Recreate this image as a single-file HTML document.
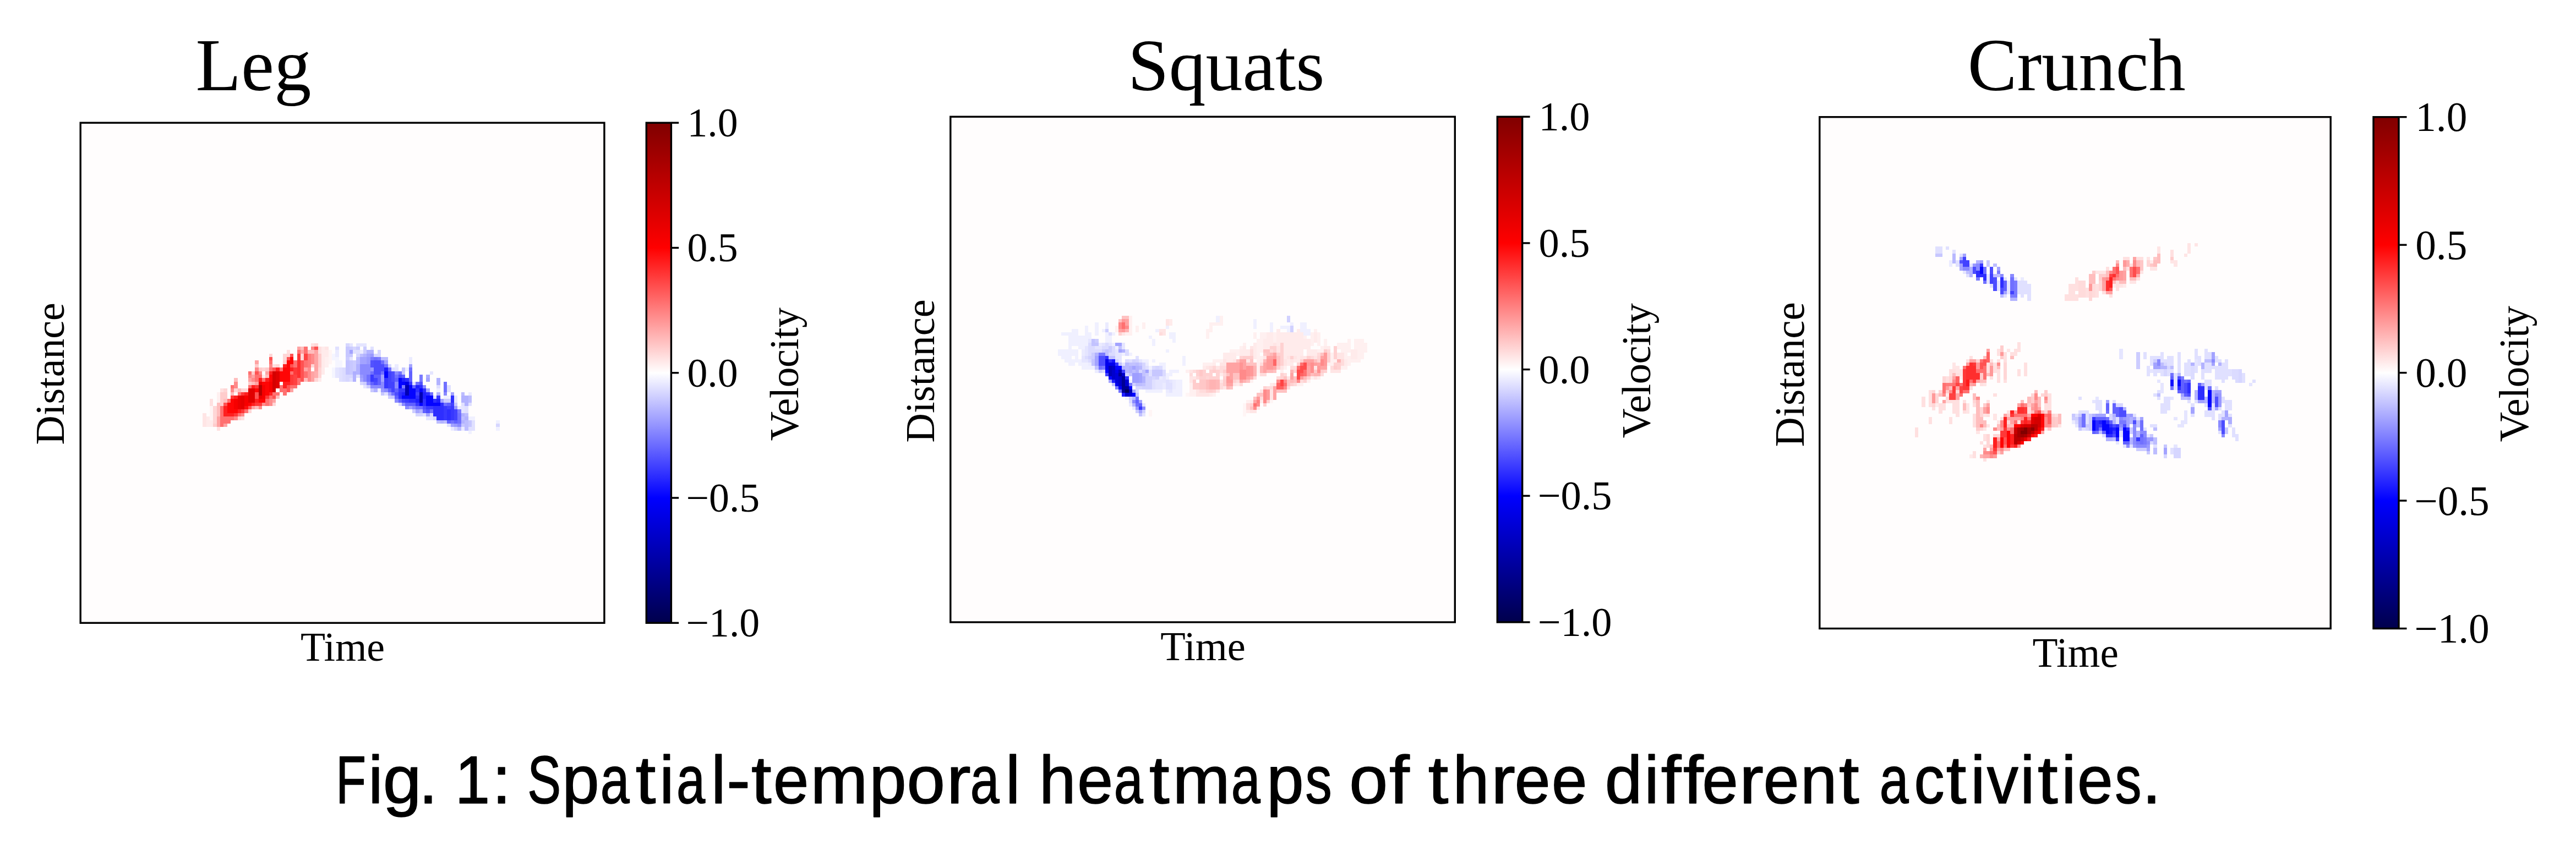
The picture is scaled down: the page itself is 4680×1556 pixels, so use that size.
<!DOCTYPE html>
<html lang="en"><head><meta charset="utf-8"><title>Fig. 1</title>
<style>
html,body{margin:0;padding:0;background:#fff;}
body{width:4680px;height:1556px;overflow:hidden;}
svg{display:block;}
text{font-family:"Liberation Serif", serif;fill:#000;}
.cap{font-family:"Liberation Sans", sans-serif;stroke:#000;stroke-width:1.6px;stroke-linejoin:round;vector-effect:non-scaling-stroke;}
</style></head><body>

<svg width="4680" height="1556" viewBox="0 0 4680 1556">
<defs><linearGradient id="seis" x1="0" y1="0" x2="0" y2="1"><stop offset="0" stop-color="#800000"/><stop offset="0.25" stop-color="#ff0000"/><stop offset="0.5" stop-color="#ffffff"/><stop offset="0.75" stop-color="#0000ff"/><stop offset="1" stop-color="#00004c"/></linearGradient></defs>
<rect width="4680" height="1556" fill="#fff"/>
<g>
<rect x="145.5" y="222.5" width="953.1" height="910.5" fill="#fffdfd"/>
<g transform="translate(146.1 223.2) scale(6.3460 6.3570)" shape-rendering="crispEdges">
<path fill="#0000b4" d="M93 75h1v3h-1zM97 77h1v3h-1z"/>
<path fill="#0000ea" d="M93 74h1v1h-1z"/>
<path fill="#0505ff" d="M87 71h1v2h-1zM91 73h1v3h-1zM92 74h1v1h-1zM92 78h1v1h-1zM93 78h1v1h-1zM94 75h1v4h-1zM95 76h1v3h-1zM97 76h1v1h-1zM97 80h1v1h-1zM99 78h1v3h-1zM100 78h1v3h-1zM101 80h1v1h-1zM102 80h1v1h-1z"/>
<path fill="#1f1fff" d="M87 70h1v1h-1zM92 73h1v1h-1zM92 77h1v1h-1zM96 75h1v1h-1zM96 79h1v1h-1zM98 77h1v2h-1zM102 79h1v1h-1z"/>
<path fill="#2e2eff" d="M91 77h1v2h-1zM93 73h1v1h-1zM94 79h1v1h-1zM95 79h1v1h-1zM96 76h1v1h-1zM96 78h1v1h-1zM97 75h1v1h-1zM98 76h1v1h-1zM98 79h1v2h-1zM99 77h1v1h-1zM101 79h1v1h-1zM101 81h1v3h-1zM102 81h1v4h-1zM103 80h1v5h-1zM105 82h1v3h-1zM106 78h1v2h-1z"/>
<path fill="#3838ff" d="M83 72h1v2h-1zM87 73h1v3h-1zM91 76h1v1h-1zM92 76h1v1h-1zM93 79h1v1h-1zM94 74h1v1h-1zM96 80h1v1h-1zM99 81h1v1h-1zM100 81h1v1h-1zM102 78h1v1h-1zM104 81h1v4h-1zM106 81h1v4h-1z"/>
<path fill="#4242ff" d="M84 73h1v1h-1zM88 71h1v5h-1zM89 74h1v3h-1zM92 79h1v1h-1zM96 77h1v1h-1zM105 81h1v1h-1zM106 80h1v1h-1zM107 82h1v3h-1z"/>
<path fill="#4d4dff" d="M84 68h1v4h-1zM84 74h1v1h-1zM85 68h1v4h-1zM86 69h1v2h-1zM89 71h1v3h-1zM90 77h1v1h-1zM91 72h1v1h-1zM98 81h1v1h-1zM99 82h1v1h-1z"/>
<path fill="#5252ff" d="M83 68h1v2h-1zM97 74h1v1h-1z"/>
<path fill="#6161ff" d="M83 74h1v1h-1zM84 72h1v1h-1zM85 72h1v3h-1zM88 76h1v1h-1zM90 73h1v1h-1zM90 76h1v1h-1zM90 78h1v1h-1zM91 79h1v1h-1zM92 72h1v1h-1zM93 80h1v1h-1zM94 71h1v3h-1zM94 80h1v1h-1zM95 75h1v1h-1zM95 80h1v1h-1zM98 82h1v1h-1zM105 80h1v1h-1zM105 85h1v1h-1zM107 85h1v1h-1z"/>
<path fill="#7070ff" d="M82 72h1v2h-1zM83 71h1v1h-1zM84 67h1v1h-1zM86 68h1v1h-1zM86 71h1v1h-1zM87 69h1v1h-1zM88 70h1v1h-1zM89 77h1v1h-1zM90 72h1v1h-1zM91 71h1v1h-1zM94 70h1v1h-1zM96 74h1v1h-1zM96 81h1v1h-1zM97 81h1v1h-1zM100 77h1v1h-1zM100 82h1v1h-1zM104 74h1v3h-1zM104 80h1v1h-1zM106 85h1v1h-1zM108 83h1v3h-1z"/>
<path fill="#7a7aff" d="M83 67h1v1h-1zM85 67h1v1h-1zM92 75h1v1h-1zM97 72h1v2h-1zM108 82h1v1h-1z"/>
<path fill="#8a8aff" d="M80 69h1v3h-1zM81 69h1v5h-1zM82 69h1v3h-1zM82 74h1v1h-1zM83 75h1v1h-1zM84 75h1v1h-1zM85 75h1v1h-1zM86 74h1v2h-1zM87 76h1v1h-1zM90 71h1v1h-1zM90 74h1v2h-1zM90 79h1v1h-1zM92 80h1v1h-1zM93 81h1v1h-1zM95 81h1v1h-1zM98 75h1v1h-1zM104 77h1v1h-1zM108 86h1v1h-1z"/>
<path fill="#9999ff" d="M80 72h1v1h-1zM82 67h1v2h-1zM83 66h1v1h-1zM83 70h1v1h-1zM86 76h1v1h-1zM107 81h1v1h-1zM107 86h1v1h-1z"/>
<path fill="#a3a3ff" d="M77 65h1v1h-1zM80 67h1v2h-1zM80 73h1v1h-1zM81 67h1v2h-1zM82 66h1v1h-1zM86 72h1v2h-1zM87 68h1v1h-1zM88 77h1v1h-1zM94 69h1v1h-1zM94 81h1v1h-1zM96 82h1v1h-1zM99 73h1v1h-1zM99 76h1v1h-1zM99 83h1v1h-1zM103 79h1v1h-1zM106 77h1v1h-1zM106 86h1v1h-1z"/>
<path fill="#adadff" d="M78 71h1v1h-1zM99 72h1v1h-1z"/>
<path fill="#b2b2ff" d="M78 72h1v2h-1zM79 69h1v3h-1zM81 66h1v1h-1zM82 65h1v1h-1zM83 65h1v1h-1zM84 76h1v1h-1zM97 82h1v1h-1zM102 73h1v2h-1zM102 77h1v1h-1zM103 85h1v1h-1zM109 78h1v2h-1zM109 83h1v1h-1zM109 85h1v1h-1zM110 78h1v3h-1zM110 84h1v1h-1z"/>
<path fill="#bdbdff" d="M79 67h1v2h-1zM80 66h1v1h-1zM86 67h1v1h-1zM87 67h1v1h-1zM102 85h1v1h-1zM104 85h1v1h-1zM108 87h1v1h-1zM109 77h1v1h-1zM109 84h1v1h-1zM110 83h1v1h-1zM110 85h1v3h-1zM111 78h1v2h-1z"/>
<path fill="#c2c2ff" d="M76 68h1v4h-1z"/>
<path fill="#c7c7ff" d="M76 64h1v3h-1zM77 66h1v1h-1zM77 68h1v4h-1zM83 76h1v1h-1zM86 77h1v1h-1zM89 78h1v1h-1zM92 70h1v2h-1zM107 80h1v1h-1zM109 86h1v1h-1zM111 85h1v2h-1z"/>
<path fill="#ccccff" d="M76 67h1v1h-1zM77 64h1v1h-1zM78 68h1v3h-1zM79 64h1v1h-1zM81 64h1v2h-1zM81 74h1v1h-1zM82 75h1v1h-1zM88 78h1v1h-1zM95 82h1v1h-1zM104 79h1v1h-1zM105 79h1v1h-1z"/>
<path fill="#d6d6ff" d="M76 63h1v1h-1zM76 72h1v2h-1zM77 72h1v1h-1zM78 64h1v1h-1zM79 66h1v1h-1zM80 74h1v1h-1zM84 66h1v1h-1zM85 65h1v2h-1zM88 69h1v1h-1zM91 80h1v1h-1zM96 83h1v1h-1zM97 83h1v1h-1zM101 84h1v1h-1zM107 87h1v1h-1zM119 86h1v1h-1z"/>
<path fill="#dbdbff" d="M75 70h1v4h-1zM100 83h1v1h-1z"/>
<path fill="#e0e0ff" d="M73 64h1v1h-1zM74 70h1v4h-1zM77 73h1v1h-1zM78 65h1v1h-1zM79 65h1v1h-1zM79 72h1v1h-1zM83 64h1v1h-1zM87 77h1v1h-1zM89 70h1v1h-1zM95 74h1v1h-1zM98 83h1v1h-1zM101 78h1v1h-1zM102 75h1v1h-1zM105 75h1v2h-1zM105 86h1v1h-1zM109 80h1v1h-1zM110 81h1v2h-1zM111 80h1v1h-1zM111 87h1v1h-1zM112 85h1v3h-1z"/>
<path fill="#e5e5ff" d="M73 70h1v3h-1zM77 63h1v1h-1zM77 67h1v1h-1zM79 63h1v1h-1zM80 63h1v1h-1zM81 63h1v1h-1zM81 75h1v1h-1zM90 70h1v1h-1zM99 84h1v1h-1zM100 71h1v1h-1zM100 84h1v1h-1zM107 78h1v2h-1zM109 81h1v2h-1z"/>
<path fill="#ebebff" d="M73 65h1v2h-1zM80 65h1v1h-1zM90 69h1v1h-1zM94 67h1v2h-1zM106 87h1v1h-1zM108 81h1v1h-1zM109 87h1v1h-1zM111 77h1v1h-1z"/>
<path fill="#f0f0ff" d="M85 76h1v1h-1zM93 70h1v1h-1zM102 76h1v1h-1zM104 78h1v1h-1zM105 78h1v1h-1zM111 84h1v1h-1zM111 88h1v1h-1zM112 84h1v1h-1zM119 85h1v1h-1zM119 87h1v1h-1z"/>
<path fill="#f5f5ff" d="M72 66h1v2h-1zM72 70h1v3h-1zM73 67h1v3h-1zM74 68h1v2h-1z"/>
<path fill="#fff5f5" d="M37 81h1v4h-1zM44 77h1v1h-1zM71 65h1v4h-1z"/>
<path fill="#fff0f0" d="M39 77h1v3h-1zM70 67h1v3h-1z"/>
<path fill="#ffebeb" d="M36 84h1v3h-1zM37 85h1v2h-1zM52 72h1v1h-1zM68 73h1v1h-1zM69 64h1v8h-1zM70 65h1v2h-1z"/>
<path fill="#ffe5e5" d="M35 83h1v4h-1zM70 64h1v1h-1z"/>
<path fill="#ffe0e0" d="M37 79h1v2h-1zM39 87h1v1h-1zM40 76h1v1h-1zM46 84h1v1h-1zM55 69h1v1h-1zM59 65h1v1h-1zM66 63h1v1h-1zM68 64h1v2h-1z"/>
<path fill="#ffd6d6" d="M38 81h1v5h-1zM41 76h1v1h-1zM44 76h1v1h-1zM45 84h1v1h-1zM46 76h1v1h-1zM47 76h1v1h-1zM48 82h1v1h-1zM52 70h1v1h-1zM54 66h1v1h-1zM55 80h1v1h-1zM56 69h1v1h-1zM58 66h1v2h-1zM59 66h1v1h-1zM63 66h1v2h-1zM66 69h1v1h-1zM67 63h1v1h-1zM67 73h1v1h-1zM68 70h1v3h-1z"/>
<path fill="#ffcccc" d="M38 86h1v1h-1zM40 77h1v4h-1zM41 77h1v2h-1zM48 74h1v1h-1zM49 71h1v1h-1zM50 69h1v1h-1zM51 70h1v1h-1zM53 70h1v1h-1zM58 68h1v1h-1zM68 66h1v4h-1z"/>
<path fill="#ffbdbd" d="M39 80h1v4h-1zM41 79h1v1h-1zM43 77h1v1h-1zM44 73h1v1h-1zM45 76h1v1h-1zM49 74h1v1h-1zM50 81h1v1h-1zM53 72h1v1h-1zM56 78h1v1h-1zM63 64h1v1h-1zM64 73h1v1h-1zM65 65h1v1h-1zM66 65h1v1h-1z"/>
<path fill="#ffadad" d="M67 71h1v2h-1z"/>
<path fill="#ffa3a3" d="M39 84h1v3h-1zM41 86h1v1h-1zM48 73h1v1h-1zM49 72h1v1h-1zM49 81h1v1h-1zM50 68h1v1h-1zM50 74h1v1h-1zM53 71h1v1h-1zM55 79h1v1h-1zM60 76h1v1h-1zM62 64h1v1h-1zM63 65h1v1h-1zM64 70h1v1h-1zM66 71h1v3h-1zM67 65h1v6h-1z"/>
<path fill="#ff8a8a" d="M43 76h1v1h-1zM44 74h1v2h-1zM44 84h1v1h-1zM46 83h1v1h-1zM48 72h1v1h-1zM49 73h1v1h-1zM50 70h1v1h-1zM51 71h1v1h-1zM51 81h1v1h-1zM52 80h1v1h-1zM54 69h1v1h-1zM54 79h1v2h-1zM65 70h1v4h-1zM66 64h1v1h-1zM66 66h1v3h-1z"/>
<path fill="#ff7a7a" d="M65 66h1v4h-1z"/>
<path fill="#ff7070" d="M40 81h1v6h-1zM41 84h1v2h-1zM42 79h1v1h-1zM42 84h1v2h-1zM43 75h1v1h-1zM43 84h1v1h-1zM45 77h1v1h-1zM45 83h1v1h-1zM47 82h1v1h-1zM48 71h1v1h-1zM48 75h1v1h-1zM50 72h1v2h-1zM51 72h1v1h-1zM52 73h1v1h-1zM53 79h1v2h-1zM54 68h1v1h-1zM54 70h1v1h-1zM54 78h1v1h-1zM55 77h1v1h-1zM56 77h1v1h-1zM57 70h1v1h-1zM57 75h1v2h-1zM58 76h1v2h-1zM60 71h1v1h-1zM60 75h1v1h-1zM61 68h1v2h-1zM61 75h1v1h-1zM62 65h1v1h-1zM62 73h1v2h-1zM64 64h1v2h-1zM64 68h1v2h-1zM64 71h1v2h-1z"/>
<path fill="#ff5252" d="M41 80h1v1h-1zM48 81h1v1h-1zM50 71h1v1h-1zM50 77h1v2h-1zM54 67h1v1h-1zM55 70h1v1h-1zM55 78h1v1h-1zM59 67h1v1h-1zM59 75h1v2h-1zM60 66h1v1h-1zM60 69h1v1h-1zM63 68h1v6h-1zM67 64h1v1h-1z"/>
<path fill="#ff4242" d="M61 72h1v3h-1zM64 66h1v2h-1z"/>
<path fill="#ff3838" d="M43 78h1v1h-1zM44 83h1v1h-1zM46 77h1v1h-1zM46 82h1v1h-1zM50 75h1v1h-1zM50 80h1v1h-1zM51 80h1v1h-1zM53 78h1v1h-1zM60 72h1v3h-1zM61 70h1v2h-1zM62 66h1v2h-1z"/>
<path fill="#ff2e2e" d="M62 68h1v5h-1z"/>
<path fill="#ff1f1f" d="M41 81h1v3h-1zM42 83h1v1h-1zM43 83h1v1h-1zM44 78h1v1h-1zM45 82h1v1h-1zM47 77h1v1h-1zM49 75h1v1h-1zM49 80h1v1h-1zM50 79h1v1h-1zM51 73h1v1h-1zM53 73h1v1h-1zM54 71h1v1h-1zM54 77h1v1h-1zM56 70h1v1h-1zM58 69h1v1h-1zM58 74h1v2h-1zM59 74h1v1h-1zM60 70h1v1h-1z"/>
<path fill="#ff0f0f" d="M47 81h1v1h-1z"/>
<path fill="#ff0505" d="M42 80h1v3h-1zM43 79h1v4h-1zM44 82h1v1h-1zM48 80h1v1h-1zM50 76h1v1h-1zM51 79h1v1h-1zM52 74h1v1h-1zM52 79h1v1h-1zM53 74h1v4h-1zM54 72h1v2h-1zM57 71h1v3h-1zM58 70h1v4h-1zM59 68h1v6h-1zM60 67h1v2h-1z"/>
<path fill="#f70000" d="M44 79h1v3h-1zM47 78h1v3h-1zM52 75h1v4h-1zM54 74h1v3h-1z"/>
<path fill="#eb0000" d="M45 78h1v4h-1zM51 74h1v1h-1zM51 78h1v1h-1z"/>
<path fill="#e50000" d="M46 78h1v4h-1z"/>
<path fill="#e00000" d="M48 76h1v4h-1zM49 76h1v4h-1zM56 71h1v5h-1z"/>
<path fill="#d40000" d="M55 71h1v6h-1z"/>
<path fill="#b80000" d="M51 75h1v3h-1z"/>
</g>
<rect x="146.2" y="223.2" width="951.7" height="909.1" fill="none" stroke="#000" stroke-width="3.4"/>
<rect x="1174.3" y="223.2" width="45.1" height="909.1" fill="url(#seis)" stroke="#000" stroke-width="3.4"/>
<rect x="1220.6" y="221.5" width="12.6" height="3.4" fill="#000"/>
<text x="1248.4" y="248.14" font-size="73.8">1.0</text>
<rect x="1220.6" y="448.77" width="12.6" height="3.4" fill="#000"/>
<text x="1248.4" y="475.42" font-size="73.8">0.5</text>
<rect x="1220.6" y="676.05" width="12.6" height="3.4" fill="#000"/>
<text x="1248.4" y="702.69" font-size="73.8">0.0</text>
<rect x="1220.6" y="903.32" width="12.6" height="3.4" fill="#000"/>
<text x="1246.4" y="929.97" font-size="73.8">−0.5</text>
<rect x="1220.6" y="1130.6" width="12.6" height="3.4" fill="#000"/>
<text x="1246.4" y="1157.24" font-size="73.8">−1.0</text>
<text transform="translate(1449.6 680.2) rotate(-90)" text-anchor="middle" font-size="73.8" letter-spacing="-0.5">Velocity</text>
<text transform="translate(115.5 679.3) rotate(-90)" text-anchor="middle" font-size="73.8">Distance</text>
<text x="622.5" y="1200.6" text-anchor="middle" font-size="73.8">Time</text>
<text x="355.5" y="164" font-size="135">Leg</text>
</g>
<g>
<rect x="1726.1" y="211.5" width="917.9" height="920.2" fill="#fffdfd"/>
<g transform="translate(1726.7 212.3) scale(6.1110 6.1240)" shape-rendering="crispEdges">
<path fill="#00005e" d="M52 81h1v1h-1z"/>
<path fill="#000094" d="M50 76h1v1h-1zM51 77h1v5h-1zM52 80h1v1h-1z"/>
<path fill="#0000b8" d="M47 74h1v3h-1zM50 75h1v1h-1zM53 81h1v1h-1z"/>
<path fill="#0000c6" d="M48 74h1v1h-1z"/>
<path fill="#0000c9" d="M50 77h1v3h-1zM51 76h1v1h-1zM52 82h1v1h-1z"/>
<path fill="#0000cd" d="M48 75h1v3h-1z"/>
<path fill="#0000d1" d="M52 78h1v2h-1z"/>
<path fill="#0000db" d="M49 76h1v3h-1zM53 82h1v1h-1z"/>
<path fill="#0000ed" d="M46 72h1v3h-1zM47 73h1v1h-1zM48 73h1v1h-1zM49 75h1v1h-1zM49 79h1v1h-1z"/>
<path fill="#0000f8" d="M50 80h1v1h-1z"/>
<path fill="#0505ff" d="M46 75h1v1h-1zM47 77h1v1h-1zM49 74h1v1h-1zM50 74h1v1h-1zM53 80h1v1h-1zM54 82h1v1h-1z"/>
<path fill="#1414ff" d="M48 72h1v1h-1z"/>
<path fill="#1f1fff" d="M48 78h1v1h-1zM51 82h1v1h-1z"/>
<path fill="#2e2eff" d="M46 71h1v1h-1zM47 72h1v1h-1zM52 77h1v1h-1z"/>
<path fill="#3333ff" d="M49 73h1v1h-1z"/>
<path fill="#3838ff" d="M56 86h1v1h-1z"/>
<path fill="#4242ff" d="M46 76h1v1h-1zM51 75h1v1h-1z"/>
<path fill="#4d4dff" d="M44 71h1v3h-1zM45 71h1v3h-1z"/>
<path fill="#6161ff" d="M55 84h1v1h-1zM56 85h1v1h-1z"/>
<path fill="#7070ff" d="M44 74h1v1h-1zM50 81h1v1h-1zM55 83h1v1h-1zM55 85h1v1h-1z"/>
<path fill="#7575ff" d="M53 79h1v1h-1z"/>
<path fill="#7a7aff" d="M44 70h1v1h-1zM45 70h1v1h-1zM45 74h1v1h-1zM49 80h1v1h-1z"/>
<path fill="#8a8aff" d="M54 84h1v1h-1zM57 86h1v1h-1z"/>
<path fill="#9999ff" d="M55 86h1v1h-1z"/>
<path fill="#9e9eff" d="M54 76h1v3h-1zM55 76h1v3h-1z"/>
<path fill="#a3a3ff" d="M43 71h1v3h-1zM47 78h1v1h-1zM49 67h1v1h-1zM50 67h1v1h-1zM50 69h1v1h-1zM54 74h1v1h-1zM54 81h1v1h-1zM56 76h1v3h-1zM56 84h1v1h-1zM56 87h1v1h-1zM58 75h1v1h-1z"/>
<path fill="#b2b2ff" d="M43 70h1v1h-1zM51 69h1v1h-1zM51 74h1v1h-1zM53 74h1v2h-1zM55 74h1v2h-1zM57 77h1v2h-1z"/>
<path fill="#b8b8ff" d="M52 73h1v3h-1zM54 83h1v1h-1zM54 85h1v1h-1zM56 74h1v1h-1z"/>
<path fill="#bdbdff" d="M54 75h1v1h-1zM55 73h1v1h-1zM55 79h1v1h-1zM56 79h1v1h-1z"/>
<path fill="#c2c2ff" d="M42 66h1v2h-1zM42 72h1v2h-1zM43 67h1v1h-1zM43 74h1v1h-1zM46 69h1v2h-1zM47 71h1v1h-1zM48 71h1v1h-1zM48 79h1v1h-1zM50 68h1v1h-1zM50 73h1v1h-1zM53 73h1v1h-1zM53 76h1v1h-1zM54 73h1v1h-1zM55 82h1v1h-1zM56 88h1v1h-1zM57 75h1v2h-1zM57 79h1v1h-1z"/>
<path fill="#c7c7ff" d="M56 73h1v1h-1zM60 75h1v2h-1zM61 75h1v2h-1zM62 75h1v2h-1z"/>
<path fill="#ccccff" d="M42 70h1v2h-1zM43 66h1v1h-1zM44 75h1v1h-1zM45 69h1v1h-1zM46 63h1v1h-1zM47 68h1v2h-1zM55 87h1v1h-1zM58 76h1v1h-1z"/>
<path fill="#d1d1ff" d="M41 71h1v1h-1zM49 72h1v1h-1zM53 83h1v1h-1zM54 72h1v1h-1zM54 79h1v1h-1zM57 80h1v1h-1zM57 87h1v1h-1zM58 77h1v4h-1zM59 77h1v4h-1zM61 77h1v1h-1zM100 59h1v2h-1zM101 62h1v2h-1z"/>
<path fill="#d6d6ff" d="M52 76h1v1h-1zM55 72h1v1h-1zM55 80h1v1h-1zM56 75h1v1h-1zM56 80h1v1h-1zM57 73h1v2h-1zM60 77h1v1h-1zM61 74h1v1h-1z"/>
<path fill="#dbdbff" d="M40 71h1v1h-1zM41 67h1v4h-1zM41 72h1v1h-1zM42 68h1v2h-1zM43 69h1v1h-1zM44 69h1v1h-1zM45 68h1v1h-1zM45 75h1v1h-1zM46 67h1v2h-1zM47 64h1v1h-1zM47 70h1v1h-1zM48 68h1v3h-1zM52 69h1v2h-1zM52 72h1v1h-1zM53 84h1v1h-1zM55 81h1v1h-1zM60 74h1v1h-1zM62 74h1v1h-1zM63 75h1v2h-1z"/>
<path fill="#e0e0ff" d="M53 72h1v1h-1zM55 71h1v1h-1zM58 74h1v1h-1zM59 75h1v2h-1zM60 78h1v3h-1zM64 78h1v3h-1zM65 79h1v2h-1z"/>
<path fill="#e5e5ff" d="M39 71h1v2h-1zM40 68h1v3h-1zM40 72h1v1h-1zM41 66h1v1h-1zM43 68h1v1h-1zM44 68h1v1h-1zM45 67h1v1h-1zM47 67h1v1h-1zM49 69h1v3h-1zM50 70h1v3h-1zM51 67h1v2h-1zM51 73h1v1h-1zM56 72h1v1h-1zM57 85h1v1h-1zM57 88h1v1h-1zM61 78h1v3h-1zM62 78h1v3h-1zM63 77h1v2h-1zM65 78h1v1h-1zM65 81h1v1h-1z"/>
<path fill="#ebebff" d="M39 69h1v2h-1zM41 73h1v1h-1zM43 75h1v1h-1zM44 67h1v1h-1zM46 61h1v2h-1zM53 85h1v1h-1zM54 86h1v1h-1zM58 73h1v1h-1zM62 77h1v1h-1zM63 79h1v2h-1zM64 81h1v1h-1zM66 78h1v3h-1z"/>
<path fill="#f0f0ff" d="M32 69h1v2h-1zM33 64h1v1h-1zM33 69h1v3h-1zM34 64h1v1h-1zM34 69h1v4h-1zM35 64h1v10h-1zM36 63h1v5h-1zM36 69h1v2h-1zM36 72h1v2h-1zM37 63h1v5h-1zM37 69h1v4h-1zM38 65h1v4h-1zM38 72h1v2h-1zM39 65h1v4h-1zM39 73h1v2h-1zM40 62h1v6h-1zM40 73h1v2h-1zM41 64h1v2h-1zM41 74h1v1h-1zM42 74h1v1h-1zM43 61h1v4h-1zM45 63h1v1h-1zM46 64h1v3h-1zM47 65h1v2h-1zM48 64h1v1h-1zM48 67h1v1h-1zM49 68h1v1h-1zM51 70h1v1h-1zM52 83h1v1h-1zM53 70h1v1h-1zM53 78h1v1h-1zM57 72h1v1h-1zM58 72h1v1h-1zM58 81h1v1h-1zM59 65h1v1h-1zM59 74h1v1h-1zM59 81h1v1h-1zM60 66h1v2h-1zM60 72h1v1h-1zM60 81h1v1h-1zM61 63h1v1h-1zM61 81h1v1h-1zM62 73h1v1h-1zM62 81h1v1h-1zM63 73h1v2h-1zM64 62h1v1h-1zM64 69h1v1h-1zM64 76h1v2h-1zM64 82h1v1h-1zM65 64h1v2h-1zM65 75h1v2h-1zM65 82h1v1h-1zM66 64h1v3h-1zM66 75h1v1h-1zM66 81h1v2h-1zM67 75h1v1h-1zM67 78h1v5h-1zM68 78h1v5h-1zM69 71h1v3h-1zM79 59h1v2h-1zM90 60h1v3h-1zM95 61h1v3h-1zM98 62h1v1h-1zM99 62h1v1h-1zM100 62h1v2h-1zM101 61h1v1h-1zM104 61h1v3h-1zM105 61h1v4h-1zM106 63h1v2h-1z"/>
<path fill="#fff5f5" d="M59 87h1v2h-1zM70 82h1v1h-1zM87 85h1v4h-1zM91 76h1v1h-1zM95 84h1v1h-1z"/>
<path fill="#fff0f0" d="M49 62h1v2h-1zM52 64h1v1h-1zM53 59h1v6h-1zM55 62h1v2h-1zM57 61h1v2h-1zM70 75h1v1h-1zM71 79h1v4h-1zM72 81h1v2h-1zM75 73h1v1h-1zM76 63h1v3h-1zM76 73h1v1h-1zM77 61h1v3h-1zM77 73h1v1h-1zM78 61h1v1h-1zM78 72h1v1h-1zM78 82h1v1h-1zM79 61h1v1h-1zM79 72h1v1h-1zM80 59h1v3h-1zM80 72h1v1h-1zM83 69h1v1h-1zM84 69h1v1h-1zM85 69h1v2h-1zM86 68h1v1h-1zM87 67h1v1h-1zM88 84h1v1h-1zM89 78h1v1h-1zM90 64h1v2h-1zM91 66h1v10h-1zM92 64h1v6h-1zM92 71h1v1h-1zM93 64h1v2h-1zM96 64h1v3h-1zM98 75h1v1h-1zM99 74h1v1h-1zM103 79h1v1h-1zM104 79h1v1h-1zM105 65h1v1h-1zM106 78h1v1h-1zM107 64h1v4h-1zM107 77h1v1h-1zM108 63h1v1h-1zM109 64h1v4h-1zM109 69h1v1h-1zM109 77h1v1h-1zM110 68h1v2h-1zM111 66h1v2h-1zM112 73h1v1h-1zM113 70h1v4h-1zM114 72h1v1h-1zM115 67h1v2h-1zM116 67h1v3h-1zM116 74h1v1h-1zM117 67h1v5h-1zM117 74h1v1h-1zM118 66h1v4h-1zM118 71h1v3h-1zM119 72h1v1h-1zM120 66h1v3h-1zM120 72h1v1h-1zM121 66h1v7h-1zM122 66h1v6h-1zM123 67h1v3h-1z"/>
<path fill="#ffebeb" d="M65 60h1v2h-1zM75 74h1v1h-1zM77 82h1v1h-1zM78 73h1v1h-1zM80 76h1v1h-1zM81 70h1v2h-1zM82 70h1v3h-1zM83 70h1v3h-1zM84 70h1v2h-1zM85 79h1v1h-1zM86 69h1v2h-1zM87 68h1v3h-1zM88 69h1v2h-1zM88 87h1v1h-1zM89 84h1v1h-1zM90 67h1v5h-1zM92 72h1v1h-1zM92 84h1v1h-1zM93 66h1v3h-1zM94 64h1v5h-1zM95 64h1v4h-1zM95 79h1v1h-1zM97 63h1v5h-1zM98 64h1v3h-1zM99 64h1v8h-1zM100 64h1v7h-1zM100 72h1v2h-1zM101 64h1v7h-1zM101 73h1v1h-1zM102 64h1v7h-1zM102 72h1v1h-1zM103 63h1v10h-1zM104 64h1v7h-1zM105 66h1v3h-1zM106 66h1v5h-1zM107 69h1v2h-1zM108 64h1v3h-1zM108 69h1v2h-1zM111 68h1v1h-1zM112 68h1v1h-1zM117 72h1v2h-1zM119 69h1v3h-1zM120 69h1v3h-1z"/>
<path fill="#ffe5e5" d="M51 64h1v1h-1zM62 63h1v1h-1zM63 63h1v2h-1zM64 60h1v2h-1zM71 75h1v1h-1zM71 77h1v2h-1zM72 77h1v1h-1zM73 81h1v2h-1zM74 82h1v1h-1zM75 82h1v1h-1zM76 74h1v1h-1zM76 82h1v1h-1zM79 74h1v1h-1zM79 81h1v1h-1zM80 73h1v1h-1zM80 78h1v1h-1zM81 72h1v2h-1zM81 80h1v1h-1zM84 72h1v1h-1zM84 79h1v1h-1zM88 72h1v1h-1zM89 68h1v1h-1zM89 87h1v1h-1zM90 87h1v1h-1zM91 86h1v1h-1zM92 81h1v1h-1zM93 71h1v1h-1zM95 81h1v3h-1zM96 67h1v1h-1zM96 79h1v1h-1zM97 68h1v2h-1zM98 74h1v1h-1zM99 72h1v2h-1zM100 71h1v1h-1zM100 77h1v1h-1zM101 72h1v1h-1zM102 71h1v1h-1zM104 71h1v1h-1zM105 71h1v1h-1zM108 71h1v1h-1zM108 74h1v1h-1zM108 77h1v1h-1zM113 75h1v1h-1zM114 75h1v1h-1zM115 70h1v2h-1zM115 75h1v1h-1zM116 70h1v2h-1z"/>
<path fill="#ffe0e0" d="M77 74h1v1h-1z"/>
<path fill="#ffdbdb" d="M62 64h1v1h-1zM71 76h1v1h-1zM72 75h1v1h-1zM73 77h1v1h-1zM74 81h1v1h-1zM75 81h1v1h-1zM80 74h1v2h-1zM80 79h1v2h-1zM81 74h1v1h-1zM81 76h1v1h-1zM85 78h1v1h-1zM86 79h1v1h-1zM88 85h1v2h-1zM89 69h1v2h-1zM90 77h1v1h-1zM92 73h1v1h-1zM92 76h1v1h-1zM92 83h1v1h-1zM93 76h1v1h-1zM94 80h1v1h-1zM95 69h1v1h-1zM95 80h1v1h-1zM97 77h1v1h-1zM99 76h1v1h-1zM100 80h1v1h-1zM101 74h1v1h-1zM102 74h1v1h-1zM102 79h1v1h-1zM104 78h1v1h-1zM107 71h1v1h-1zM109 70h1v1h-1zM110 76h1v1h-1zM112 69h1v1h-1zM113 74h1v1h-1zM116 72h1v2h-1z"/>
<path fill="#ffd6d6" d="M76 77h1v1h-1zM78 74h1v1h-1zM109 71h1v1h-1z"/>
<path fill="#ffd1d1" d="M50 64h1v1h-1zM73 75h1v2h-1zM74 77h1v1h-1zM75 75h1v3h-1zM76 76h1v1h-1zM76 81h1v1h-1zM77 75h1v3h-1zM78 77h1v1h-1zM78 81h1v1h-1zM79 75h1v3h-1zM81 77h1v1h-1zM84 78h1v1h-1zM86 71h1v1h-1zM89 85h1v1h-1zM93 80h1v1h-1zM93 85h1v1h-1zM94 84h1v1h-1zM95 68h1v1h-1zM96 68h1v2h-1zM97 70h1v1h-1zM97 74h1v1h-1zM98 67h1v7h-1zM98 76h1v2h-1zM101 71h1v1h-1zM101 79h1v1h-1zM102 75h1v1h-1zM103 73h1v1h-1zM104 72h1v1h-1zM105 78h1v1h-1zM106 71h1v1h-1zM106 77h1v1h-1zM109 72h1v1h-1zM111 75h1v1h-1zM112 70h1v3h-1zM114 68h1v4h-1zM114 73h1v1h-1zM115 73h1v2h-1z"/>
<path fill="#ffcccc" d="M72 78h1v3h-1zM73 79h1v2h-1zM77 81h1v1h-1zM78 75h1v1h-1zM81 75h1v1h-1zM81 78h1v2h-1zM87 71h1v1h-1zM88 71h1v1h-1zM89 71h1v1h-1zM93 70h1v1h-1zM110 75h1v1h-1zM111 69h1v1h-1zM114 74h1v1h-1z"/>
<path fill="#ffc7c7" d="M74 75h1v2h-1zM74 78h1v3h-1zM75 78h1v3h-1zM108 75h1v1h-1z"/>
<path fill="#ffc2c2" d="M50 60h1v1h-1zM51 59h1v1h-1zM52 59h1v1h-1zM82 76h1v1h-1zM83 80h1v1h-1zM84 76h1v2h-1zM85 72h1v1h-1zM85 76h1v2h-1zM88 73h1v1h-1zM88 78h1v1h-1zM89 72h1v2h-1zM89 86h1v1h-1zM90 73h1v1h-1zM90 83h1v1h-1zM91 82h1v1h-1zM92 82h1v1h-1zM93 69h1v1h-1zM94 69h1v2h-1zM96 75h1v1h-1zM97 71h1v3h-1zM97 81h1v1h-1zM98 81h1v1h-1zM99 77h1v1h-1zM99 81h1v1h-1zM100 78h1v2h-1zM102 77h1v2h-1zM110 70h1v1h-1z"/>
<path fill="#ffbdbd" d="M76 78h1v3h-1zM107 76h1v1h-1zM108 72h1v1h-1z"/>
<path fill="#ffb8b8" d="M79 78h1v3h-1zM82 80h1v1h-1zM93 72h1v1h-1zM94 75h1v1h-1zM95 70h1v1h-1zM95 75h1v1h-1zM101 78h1v1h-1zM105 77h1v1h-1z"/>
<path fill="#ffb3b3" d="M52 63h1v1h-1zM77 78h1v3h-1zM78 78h1v3h-1zM87 78h1v1h-1zM89 77h1v1h-1zM90 74h1v3h-1zM92 74h1v2h-1zM101 75h1v1h-1zM108 76h1v1h-1zM109 76h1v1h-1zM115 72h1v1h-1z"/>
<path fill="#ffa3a3" d="M50 63h1v1h-1zM52 60h1v2h-1zM82 73h1v3h-1zM82 79h1v1h-1zM83 73h1v5h-1zM83 79h1v1h-1zM84 73h1v3h-1zM85 73h1v3h-1zM86 72h1v1h-1zM86 78h1v1h-1zM87 72h1v3h-1zM88 77h1v1h-1zM90 84h1v1h-1zM93 73h1v3h-1zM94 71h1v1h-1zM95 71h1v1h-1zM96 70h1v1h-1zM96 74h1v1h-1zM96 80h1v4h-1zM101 76h1v2h-1zM105 72h1v1h-1zM106 72h1v1h-1zM106 74h1v3h-1zM107 72h1v1h-1zM109 73h1v1h-1zM110 71h1v1h-1zM110 74h1v1h-1zM111 74h1v1h-1z"/>
<path fill="#ff9e9e" d="M108 73h1v1h-1z"/>
<path fill="#ff9999" d="M51 60h1v1h-1zM51 63h1v1h-1zM82 77h1v2h-1zM83 78h1v1h-1zM89 74h1v3h-1zM91 83h1v1h-1zM94 72h1v3h-1zM94 81h1v3h-1zM95 72h1v3h-1zM96 71h1v1h-1zM104 77h1v1h-1zM106 73h1v1h-1zM109 74h1v1h-1zM111 70h1v4h-1z"/>
<path fill="#ff9494" d="M86 73h1v2h-1zM88 74h1v3h-1z"/>
<path fill="#ff8f8f" d="M107 73h1v3h-1zM109 75h1v1h-1z"/>
<path fill="#ff8a8a" d="M50 61h1v2h-1zM52 62h1v1h-1zM86 75h1v3h-1zM87 75h1v3h-1zM90 86h1v1h-1zM91 85h1v1h-1zM93 81h1v4h-1zM97 78h1v1h-1zM99 78h1v1h-1zM99 80h1v1h-1zM103 78h1v1h-1zM110 72h1v2h-1z"/>
<path fill="#ff8080" d="M91 84h1v1h-1z"/>
<path fill="#ff7070" d="M51 61h1v2h-1zM90 85h1v1h-1zM99 79h1v1h-1zM103 74h1v1h-1zM104 73h1v1h-1zM105 75h1v2h-1z"/>
<path fill="#ff6666" d="M96 72h1v2h-1z"/>
<path fill="#ff6161" d="M97 79h1v2h-1zM98 80h1v1h-1zM104 76h1v1h-1z"/>
<path fill="#ff4c4c" d="M103 75h1v3h-1zM104 74h1v2h-1zM105 73h1v2h-1z"/>
<path fill="#ff4242" d="M98 78h1v2h-1z"/>
</g>
<rect x="1726.8" y="212.2" width="916.5" height="918.8" fill="none" stroke="#000" stroke-width="3.4"/>
<rect x="2720.3" y="212.2" width="45.4" height="918.8" fill="url(#seis)" stroke="#000" stroke-width="3.4"/>
<rect x="2766.9" y="210.5" width="12.7" height="3.4" fill="#000"/>
<text x="2795.4" y="237.38" font-size="74.5">1.0</text>
<rect x="2766.9" y="440.2" width="12.7" height="3.4" fill="#000"/>
<text x="2795.4" y="467.08" font-size="74.5">0.5</text>
<rect x="2766.9" y="669.9" width="12.7" height="3.4" fill="#000"/>
<text x="2795.4" y="696.78" font-size="74.5">0.0</text>
<rect x="2766.9" y="899.6" width="12.7" height="3.4" fill="#000"/>
<text x="2793.4" y="926.48" font-size="74.5">−0.5</text>
<rect x="2766.9" y="1129.3" width="12.7" height="3.4" fill="#000"/>
<text x="2793.4" y="1156.18" font-size="74.5">−1.0</text>
<text transform="translate(2997.8 674) rotate(-90)" text-anchor="middle" font-size="74.5" letter-spacing="-0.5">Velocity</text>
<text transform="translate(1696.7 674.4) rotate(-90)" text-anchor="middle" font-size="74.5">Distance</text>
<text x="2185.6" y="1200" text-anchor="middle" font-size="74.5">Time</text>
<text x="2049" y="164.4" font-size="134">Squats</text>
</g>
<g>
<rect x="3305.1" y="212" width="929.8" height="931.2" fill="#fffdfd"/>
<g transform="translate(3305.8 212.8) scale(6.1890 6.1970)" shape-rendering="crispEdges">
<path fill="#0505ff" d="M47 44h1v2h-1zM80 89h1v3h-1zM83 89h1v3h-1zM84 90h1v3h-1zM87 91h1v3h-1zM89 91h1v4h-1zM90 92h1v3h-1zM105 77h1v2h-1zM114 80h1v5h-1z"/>
<path fill="#0f0fff" d="M103 77h1v2h-1z"/>
<path fill="#1414ff" d="M85 91h1v2h-1z"/>
<path fill="#1f1fff" d="M82 89h1v1h-1zM86 91h1v1h-1z"/>
<path fill="#2e2eff" d="M46 45h1v2h-1zM47 46h1v1h-1zM48 46h1v2h-1zM53 47h1v3h-1zM81 89h1v3h-1zM84 89h1v1h-1zM84 93h1v1h-1zM85 90h1v1h-1zM85 93h1v1h-1zM90 91h1v1h-1zM105 79h1v1h-1zM108 78h1v3h-1zM111 79h1v4h-1zM112 79h1v4h-1z"/>
<path fill="#3838ff" d="M47 43h1v1h-1zM80 88h1v1h-1zM82 90h1v1h-1zM86 92h1v1h-1zM87 90h1v1h-1zM87 94h1v1h-1zM93 94h1v1h-1z"/>
<path fill="#4242ff" d="M42 41h1v3h-1zM43 42h1v2h-1zM50 46h1v3h-1zM56 51h1v1h-1z"/>
<path fill="#4d4dff" d="M45 44h1v2h-1zM50 44h1v2h-1zM51 47h1v4h-1zM53 50h1v2h-1zM86 90h1v1h-1zM86 93h1v1h-1zM88 85h1v3h-1zM89 86h1v2h-1zM89 90h1v1h-1zM92 89h1v1h-1zM105 76h1v1h-1zM107 78h1v3h-1zM108 81h1v1h-1zM114 85h1v1h-1zM116 82h1v3h-1zM118 89h1v4h-1z"/>
<path fill="#5252ff" d="M41 42h1v1h-1z"/>
<path fill="#6161ff" d="M54 48h1v3h-1zM80 92h1v1h-1zM81 88h1v1h-1zM82 88h1v1h-1zM83 88h1v1h-1zM83 92h1v1h-1zM84 84h1v2h-1zM85 89h1v1h-1zM86 84h1v3h-1zM87 85h1v3h-1zM89 95h1v1h-1zM90 95h1v1h-1zM94 93h1v1h-1zM103 76h1v1h-1zM105 80h1v1h-1zM106 77h1v4h-1zM107 81h1v1h-1zM108 77h1v1h-1zM111 78h1v1h-1z"/>
<path fill="#7070ff" d="M48 44h1v2h-1zM48 48h1v1h-1zM56 47h1v4h-1zM77 87h1v4h-1zM81 92h1v1h-1zM82 91h1v1h-1zM84 86h1v1h-1zM84 88h1v1h-1zM94 89h1v3h-1zM94 94h1v2h-1zM103 75h1v1h-1zM103 79h1v1h-1zM107 77h1v1h-1zM114 79h1v1h-1z"/>
<path fill="#7a7aff" d="M46 47h1v1h-1zM52 45h1v1h-1zM56 52h1v1h-1zM57 48h1v5h-1zM88 89h1v1h-1zM89 89h1v1h-1zM93 95h1v1h-1zM95 94h1v2h-1zM106 76h1v1h-1z"/>
<path fill="#8a8aff" d="M42 44h1v1h-1zM43 44h1v1h-1zM46 43h1v2h-1zM53 46h1v1h-1zM56 46h1v1h-1zM88 88h1v1h-1zM88 90h1v1h-1zM90 96h1v1h-1zM92 90h1v6h-1zM93 96h1v1h-1zM94 92h1v1h-1zM94 96h1v1h-1zM95 92h1v2h-1zM95 96h1v1h-1zM96 95h1v1h-1zM99 71h1v2h-1zM115 71h1v1h-1zM116 81h1v1h-1zM117 89h1v2h-1zM118 93h1v1h-1z"/>
<path fill="#9999ff" d="M45 43h1v1h-1zM89 88h1v1h-1zM91 87h1v1h-1zM92 96h1v1h-1zM96 94h1v1h-1zM96 96h1v1h-1zM97 94h1v1h-1zM117 81h1v4h-1z"/>
<path fill="#a3a3ff" d="M41 41h1v1h-1zM41 43h1v2h-1zM42 40h1v1h-1zM47 42h1v1h-1zM52 44h1v1h-1zM54 51h1v1h-1zM76 88h1v3h-1zM81 87h1v1h-1zM82 87h1v1h-1zM83 87h1v1h-1zM84 83h1v1h-1zM88 91h1v1h-1zM90 87h1v4h-1zM92 88h1v1h-1zM94 88h1v1h-1zM96 97h1v1h-1zM98 72h1v2h-1zM99 73h1v1h-1zM101 97h1v2h-1zM106 81h1v1h-1zM109 85h1v2h-1zM111 83h1v1h-1zM112 78h1v1h-1zM112 83h1v1h-1zM115 69h1v2h-1zM115 72h1v1h-1zM116 80h1v1h-1zM116 85h1v1h-1zM117 80h1v1h-1zM117 91h1v1h-1zM119 86h1v2h-1z"/>
<path fill="#adadff" d="M120 88h1v2h-1z"/>
<path fill="#b2b2ff" d="M44 44h1v3h-1zM46 42h1v1h-1zM56 53h1v1h-1zM57 53h1v1h-1zM80 87h1v1h-1zM84 94h1v1h-1zM85 94h1v1h-1zM86 87h1v1h-1zM86 89h1v1h-1zM89 85h1v1h-1zM91 88h1v2h-1zM91 94h1v2h-1zM93 92h1v2h-1zM100 73h1v1h-1zM101 73h1v1h-1zM105 75h1v1h-1zM108 82h1v1h-1zM109 72h1v1h-1zM110 80h1v3h-1zM112 72h1v2h-1zM113 82h1v2h-1zM115 80h1v4h-1zM117 72h1v1h-1zM118 88h1v1h-1zM119 88h1v1h-1z"/>
<path fill="#b8b8ff" d="M39 40h1v3h-1z"/>
<path fill="#bdbdff" d="M43 45h1v1h-1zM51 43h1v1h-1zM51 46h1v1h-1zM52 46h1v1h-1zM53 52h1v1h-1zM82 92h1v1h-1zM86 88h1v1h-1zM86 94h1v1h-1zM93 89h1v2h-1zM98 91h1v1h-1zM98 94h1v2h-1zM98 97h1v2h-1zM99 81h1v1h-1zM100 72h1v1h-1zM103 73h1v1h-1zM106 82h1v1h-1zM107 82h1v1h-1zM113 71h1v1h-1zM114 71h1v1h-1z"/>
<path fill="#c7c7ff" d="M34 40h1v1h-1zM35 40h1v1h-1zM49 42h1v2h-1zM74 87h1v1h-1zM76 87h1v1h-1zM76 91h1v1h-1zM78 90h1v1h-1zM79 87h1v5h-1zM96 98h1v1h-1zM97 93h1v1h-1zM101 96h1v1h-1zM119 91h1v2h-1z"/>
<path fill="#ccccff" d="M74 88h1v1h-1zM75 88h1v1h-1zM91 91h1v2h-1zM93 69h1v5h-1zM93 97h1v1h-1zM94 97h1v1h-1zM95 97h1v1h-1zM98 71h1v1h-1z"/>
<path fill="#d6d6ff" d="M75 89h1v1h-1zM78 91h1v1h-1zM85 87h1v2h-1zM87 84h1v1h-1zM88 84h1v1h-1zM97 95h1v1h-1zM101 72h1v1h-1zM101 74h1v2h-1zM101 99h1v1h-1zM102 73h1v1h-1zM104 97h1v3h-1zM105 97h1v3h-1zM123 74h1v4h-1z"/>
<path fill="#dbdbff" d="M109 73h1v4h-1zM121 74h1v3h-1zM122 74h1v4h-1z"/>
<path fill="#e0e0ff" d="M34 38h1v2h-1zM35 38h1v2h-1zM37 38h1v1h-1zM39 39h1v1h-1zM40 42h1v2h-1zM41 40h1v1h-1zM43 46h1v1h-1zM50 49h1v1h-1zM54 47h1v1h-1zM54 52h1v1h-1zM57 47h1v1h-1zM58 48h1v4h-1zM59 48h1v5h-1zM60 48h1v4h-1zM61 49h1v5h-1zM75 87h1v1h-1zM76 82h1v1h-1zM76 86h1v1h-1zM77 86h1v1h-1zM77 91h1v1h-1zM78 86h1v4h-1zM81 83h1v3h-1zM82 83h1v4h-1zM83 93h1v1h-1zM86 83h1v1h-1zM87 88h1v2h-1zM88 92h1v2h-1zM89 96h1v1h-1zM91 96h1v1h-1zM92 87h1v1h-1zM95 69h1v2h-1zM95 91h1v1h-1zM96 73h1v3h-1zM97 70h1v3h-1zM97 90h1v1h-1zM98 70h1v1h-1zM98 74h1v2h-1zM98 81h1v1h-1zM98 90h1v1h-1zM98 96h1v1h-1zM99 70h1v1h-1zM99 74h1v1h-1zM99 80h1v1h-1zM99 82h1v1h-1zM100 69h1v3h-1zM100 74h1v2h-1zM100 84h1v3h-1zM101 71h1v1h-1zM101 82h1v5h-1zM102 70h1v3h-1zM102 74h1v2h-1zM102 82h1v4h-1zM103 70h1v3h-1zM103 74h1v1h-1zM103 97h1v2h-1zM104 75h1v5h-1zM105 69h1v6h-1zM107 72h1v4h-1zM108 71h1v5h-1zM108 83h1v1h-1zM109 84h1v1h-1zM109 87h1v1h-1zM110 68h1v3h-1zM110 73h1v2h-1zM110 83h1v1h-1zM111 70h1v3h-1zM112 74h1v3h-1zM113 68h1v3h-1zM113 72h1v3h-1zM113 77h1v3h-1zM113 84h1v1h-1zM113 86h1v2h-1zM114 69h1v2h-1zM114 72h1v3h-1zM114 77h1v2h-1zM114 86h1v2h-1zM115 73h1v1h-1zM115 84h1v5h-1zM116 70h1v2h-1zM116 73h1v4h-1zM116 79h1v1h-1zM117 71h1v1h-1zM117 73h1v4h-1zM117 85h1v1h-1zM117 87h1v2h-1zM117 92h1v1h-1zM118 72h1v6h-1zM118 82h1v2h-1zM118 86h1v2h-1zM119 71h1v6h-1zM119 83h1v3h-1zM120 74h1v2h-1zM120 83h1v3h-1zM120 87h1v1h-1zM120 90h1v1h-1zM121 91h1v3h-1zM122 93h1v2h-1zM124 75h1v3h-1zM127 77h1v1h-1z"/>
<path fill="#e5e5ff" d="M42 45h1v1h-1zM44 43h1v1h-1zM49 46h1v3h-1zM52 48h1v3h-1zM55 48h1v4h-1zM75 90h1v1h-1zM80 83h1v1h-1zM81 82h1v1h-1zM87 95h1v1h-1zM88 68h1v3h-1zM93 88h1v1h-1zM96 93h1v1h-1zM97 74h1v1h-1zM99 77h1v1h-1zM100 78h1v3h-1zM103 82h1v1h-1zM104 88h1v1h-1zM104 96h1v1h-1zM105 90h1v1h-1zM106 89h1v2h-1zM107 86h1v4h-1zM110 71h1v2h-1zM126 78h1v1h-1z"/>
<path fill="#ebebff" d="M38 42h1v2h-1zM59 47h1v1h-1zM74 89h1v1h-1z"/>
<path fill="#ffebeb" d="M34 84h1v1h-1zM37 81h1v1h-1zM41 76h1v1h-1zM44 99h1v1h-1zM66 91h1v1h-1zM86 49h1v1h-1zM89 49h1v1h-1zM97 42h1v1h-1z"/>
<path fill="#ffe5e5" d="M39 72h1v2h-1zM40 73h1v2h-1zM41 74h1v2h-1zM43 84h1v3h-1zM46 92h1v1h-1zM48 78h1v1h-1zM48 87h1v1h-1zM48 91h1v1h-1zM49 90h1v1h-1zM51 87h1v2h-1zM52 89h1v1h-1zM55 68h1v1h-1zM70 90h1v1h-1zM81 45h1v1h-1zM82 45h1v1h-1zM83 45h1v1h-1zM88 49h1v1h-1zM91 48h1v1h-1zM92 48h1v1h-1zM94 45h1v1h-1zM96 41h1v1h-1zM97 44h1v1h-1zM98 44h1v1h-1zM99 38h1v2h-1zM103 42h1v1h-1zM104 42h1v2h-1zM107 40h1v1h-1zM108 37h1v3h-1zM110 37h1v1h-1z"/>
<path fill="#ffe0e0" d="M28 91h1v3h-1zM30 82h1v3h-1zM32 80h1v5h-1zM32 88h1v2h-1zM33 85h1v1h-1zM35 84h1v3h-1zM36 84h1v2h-1zM37 76h1v2h-1zM37 83h1v1h-1zM38 74h1v2h-1zM38 83h1v1h-1zM38 88h1v2h-1zM39 74h1v1h-1zM39 83h1v4h-1zM40 75h1v1h-1zM40 83h1v5h-1zM42 83h1v1h-1zM42 86h1v1h-1zM43 71h1v1h-1zM44 70h1v1h-1zM44 79h1v1h-1zM45 84h1v1h-1zM45 87h1v4h-1zM45 98h1v2h-1zM47 78h1v1h-1zM47 95h1v1h-1zM48 93h1v2h-1zM48 96h1v1h-1zM48 100h1v1h-1zM49 72h1v3h-1zM49 83h1v1h-1zM49 87h1v1h-1zM50 71h1v1h-1zM50 76h1v1h-1zM51 72h1v3h-1zM51 81h1v1h-1zM52 68h1v2h-1zM52 71h1v1h-1zM52 74h1v4h-1zM53 88h1v1h-1zM54 69h1v3h-1zM54 77h1v1h-1zM55 86h1v1h-1zM56 69h1v1h-1zM57 68h1v2h-1zM58 66h1v3h-1zM58 74h1v2h-1zM58 89h1v1h-1zM60 72h1v4h-1zM61 85h1v2h-1zM66 84h1v2h-1zM67 81h1v5h-1zM69 87h1v1h-1zM72 52h1v2h-1zM73 49h1v5h-1zM74 49h1v5h-1zM75 47h1v4h-1zM75 52h1v2h-1zM78 50h1v3h-1zM81 49h1v4h-1zM83 51h1v1h-1zM84 44h1v1h-1zM85 52h1v1h-1zM87 48h1v3h-1zM89 41h1v1h-1zM90 41h1v1h-1zM90 44h1v1h-1zM91 43h1v1h-1zM93 41h1v1h-1zM93 47h1v1h-1zM94 41h1v1h-1zM103 39h1v2h-1z"/>
<path fill="#ffdbdb" d="M76 48h1v5h-1zM77 48h1v5h-1zM80 49h1v4h-1z"/>
<path fill="#ffd6d6" d="M33 80h1v1h-1zM33 84h1v1h-1zM34 81h1v3h-1zM35 80h1v1h-1zM36 76h1v2h-1zM37 82h1v1h-1zM38 76h1v2h-1zM40 80h1v1h-1zM45 83h1v1h-1zM46 71h1v1h-1zM47 85h1v3h-1zM47 91h1v1h-1zM49 93h1v4h-1zM51 93h1v1h-1zM52 93h1v1h-1zM54 72h1v5h-1zM55 89h1v1h-1zM62 81h1v1h-1zM65 81h1v1h-1zM66 86h1v1h-1zM68 87h1v1h-1zM79 51h1v3h-1zM82 48h1v3h-1zM96 42h1v2h-1z"/>
<path fill="#ffcccc" d="M37 80h1v1h-1zM46 91h1v1h-1zM47 75h1v2h-1zM48 84h1v1h-1zM52 98h1v1h-1zM53 67h1v2h-1zM53 70h1v1h-1zM55 87h1v1h-1zM61 84h1v1h-1zM62 82h1v2h-1zM66 80h1v2h-1zM67 91h1v1h-1zM69 88h1v3h-1zM80 45h1v1h-1zM82 46h1v2h-1zM83 46h1v1h-1zM103 41h1v1h-1z"/>
<path fill="#ffc7c7" d="M68 88h1v3h-1zM94 42h1v3h-1zM97 43h1v1h-1zM98 41h1v1h-1z"/>
<path fill="#ffbdbd" d="M35 81h1v1h-1zM38 79h1v1h-1zM39 75h1v1h-1zM42 84h1v2h-1zM45 81h1v2h-1zM46 83h1v8h-1zM47 77h1v1h-1zM47 88h1v2h-1zM48 70h1v1h-1zM48 77h1v1h-1zM48 89h1v2h-1zM49 75h1v1h-1zM50 72h1v1h-1zM50 96h1v1h-1zM52 73h1v1h-1zM52 90h1v2h-1zM54 97h1v1h-1zM55 90h1v1h-1zM55 97h1v1h-1zM56 70h1v1h-1zM56 90h1v1h-1zM59 83h1v1h-1zM61 82h1v2h-1zM62 86h1v1h-1zM63 80h1v1h-1zM64 82h1v3h-1zM65 86h1v1h-1zM70 87h1v3h-1zM79 46h1v3h-1zM80 46h1v3h-1zM84 45h1v2h-1zM86 48h1v1h-1zM87 42h1v1h-1zM88 48h1v1h-1zM89 44h1v1h-1zM89 48h1v1h-1zM91 47h1v1h-1zM92 47h1v1h-1zM93 42h1v2h-1zM98 42h1v2h-1zM99 40h1v3h-1z"/>
<path fill="#ffb3b3" d="M47 99h1v1h-1z"/>
<path fill="#ffadad" d="M90 42h1v2h-1zM93 46h1v1h-1z"/>
<path fill="#ffa3a3" d="M36 83h1v1h-1zM39 76h1v1h-1zM40 79h1v1h-1zM40 81h1v2h-1zM44 71h1v1h-1zM44 78h1v1h-1zM45 71h1v1h-1zM46 77h1v1h-1zM48 85h1v2h-1zM48 97h1v1h-1zM48 99h1v1h-1zM49 68h1v1h-1zM49 84h1v1h-1zM49 99h1v1h-1zM50 97h1v1h-1zM52 94h1v1h-1zM52 97h1v1h-1zM53 91h1v1h-1zM53 98h1v1h-1zM54 87h1v1h-1zM55 88h1v1h-1zM56 88h1v2h-1zM57 86h1v1h-1zM57 88h1v1h-1zM58 84h1v1h-1zM58 88h1v1h-1zM61 87h1v1h-1zM62 84h1v1h-1zM63 83h1v1h-1zM64 85h1v1h-1zM65 92h1v1h-1zM66 83h1v1h-1zM83 48h1v3h-1zM84 51h1v1h-1zM85 51h1v1h-1zM89 45h1v3h-1zM92 41h1v1h-1z"/>
<path fill="#ff9999" d="M33 81h1v3h-1zM37 79h1v1h-1zM43 72h1v1h-1zM45 78h1v1h-1zM46 72h1v2h-1zM50 73h1v3h-1zM51 99h1v1h-1zM53 69h1v1h-1zM62 85h1v1h-1zM79 49h1v2h-1zM83 47h1v1h-1zM88 45h1v3h-1zM89 42h1v2h-1z"/>
<path fill="#ff8a8a" d="M36 81h1v1h-1zM38 80h1v1h-1zM39 77h1v1h-1zM46 82h1v1h-1zM47 90h1v1h-1zM48 98h1v1h-1zM49 85h1v2h-1zM49 98h1v1h-1zM50 99h1v1h-1zM51 91h1v1h-1zM52 72h1v1h-1zM53 89h1v2h-1zM53 97h1v1h-1zM55 91h1v1h-1zM58 96h1v1h-1zM59 88h1v1h-1zM60 84h1v1h-1zM63 81h1v2h-1zM63 84h1v2h-1zM66 82h1v1h-1zM66 88h1v3h-1zM67 86h1v1h-1zM67 90h1v1h-1zM84 47h1v1h-1zM85 45h1v1h-1zM87 43h1v1h-1zM87 47h1v1h-1zM92 42h1v2h-1z"/>
<path fill="#ff7a7a" d="M37 78h1v1h-1zM38 78h1v1h-1z"/>
<path fill="#ff7070" d="M36 78h1v3h-1zM39 78h1v1h-1zM41 78h1v1h-1zM41 81h1v1h-1zM42 73h1v1h-1zM42 80h1v1h-1zM43 80h1v1h-1zM44 77h1v1h-1zM46 74h1v1h-1zM47 71h1v1h-1zM47 74h1v1h-1zM48 73h1v4h-1zM50 98h1v1h-1zM52 95h1v2h-1zM54 96h1v1h-1zM56 91h1v2h-1zM57 87h1v1h-1zM57 89h1v1h-1zM58 87h1v1h-1zM59 84h1v1h-1zM59 87h1v1h-1zM60 87h1v1h-1zM61 88h1v1h-1zM63 86h1v1h-1zM66 87h1v1h-1zM86 44h1v2h-1zM86 47h1v1h-1zM87 46h1v1h-1zM91 44h1v3h-1zM93 44h1v2h-1z"/>
<path fill="#ff6161" d="M40 76h1v2h-1zM49 69h1v3h-1zM67 87h1v3h-1z"/>
<path fill="#ff5252" d="M47 72h1v2h-1zM48 71h1v2h-1zM51 98h1v1h-1zM54 94h1v2h-1zM64 86h1v1h-1zM85 50h1v1h-1zM87 44h1v2h-1z"/>
<path fill="#ff4c4c" d="M92 44h1v3h-1z"/>
<path fill="#ff4242" d="M38 81h1v2h-1zM39 81h1v2h-1zM40 78h1v1h-1zM41 79h1v2h-1zM85 46h1v1h-1z"/>
<path fill="#ff3838" d="M39 79h1v2h-1zM42 74h1v6h-1zM43 79h1v1h-1zM45 72h1v1h-1zM45 77h1v1h-1zM51 97h1v1h-1zM53 92h1v2h-1zM54 91h1v3h-1zM56 87h1v1h-1zM56 96h1v1h-1zM59 89h1v1h-1zM60 85h1v2h-1z"/>
<path fill="#ff2e2e" d="M43 73h1v4h-1zM44 72h1v5h-1zM45 73h1v4h-1zM46 75h1v2h-1zM58 85h1v2h-1zM59 85h1v2h-1zM61 89h1v1h-1zM84 48h1v3h-1zM86 46h1v1h-1z"/>
<path fill="#ff1f1f" d="M51 94h1v3h-1zM54 88h1v3h-1zM56 86h1v1h-1zM56 93h1v3h-1zM57 96h1v1h-1zM60 88h1v2h-1zM61 94h1v1h-1zM63 93h1v1h-1zM65 91h1v1h-1zM85 47h1v3h-1z"/>
<path fill="#ff1a1a" d="M43 77h1v2h-1z"/>
<path fill="#ff0505" d="M53 94h1v3h-1zM55 92h1v5h-1zM57 90h1v1h-1zM58 90h1v1h-1zM59 95h1v1h-1zM62 87h1v1h-1zM62 93h1v1h-1zM63 87h1v1h-1zM64 92h1v1h-1zM65 87h1v4h-1z"/>
<path fill="#eb0000" d="M60 94h1v1h-1zM63 92h1v1h-1zM64 91h1v1h-1z"/>
<path fill="#e00000" d="M59 90h1v1h-1zM62 88h1v2h-1zM64 87h1v1h-1z"/>
<path fill="#d40000" d="M58 95h1v1h-1zM60 90h1v1h-1zM61 90h1v1h-1zM63 88h1v2h-1zM64 88h1v3h-1z"/>
<path fill="#c90000" d="M57 91h1v2h-1zM59 94h1v1h-1zM61 93h1v1h-1z"/>
<path fill="#bd0000" d="M62 92h1v1h-1zM63 90h1v2h-1z"/>
<path fill="#b80000" d="M57 93h1v3h-1zM58 94h1v1h-1zM62 90h1v1h-1z"/>
<path fill="#a60000" d="M58 91h1v3h-1zM60 93h1v1h-1zM61 91h1v2h-1z"/>
<path fill="#9c0000" d="M59 91h1v1h-1zM59 93h1v1h-1z"/>
<path fill="#8f0000" d="M62 91h1v1h-1z"/>
<path fill="#820000" d="M60 91h1v1h-1z"/>
<path fill="#800000" d="M59 92h1v1h-1zM60 92h1v1h-1z"/>
</g>
<rect x="3305.8" y="212.7" width="928.4" height="929.8" fill="none" stroke="#000" stroke-width="3.4"/>
<rect x="4312" y="212.7" width="46" height="929.8" fill="url(#seis)" stroke="#000" stroke-width="3.4"/>
<rect x="4359.2" y="211" width="13.3" height="3.4" fill="#000"/>
<text x="4388.2" y="238.15" font-size="75.3">1.0</text>
<rect x="4359.2" y="443.45" width="13.3" height="3.4" fill="#000"/>
<text x="4388.2" y="470.6" font-size="75.3">0.5</text>
<rect x="4359.2" y="675.9" width="13.3" height="3.4" fill="#000"/>
<text x="4388.2" y="703.05" font-size="75.3">0.0</text>
<rect x="4359.2" y="908.35" width="13.3" height="3.4" fill="#000"/>
<text x="4386.2" y="935.5" font-size="75.3">−0.5</text>
<rect x="4359.2" y="1140.8" width="13.3" height="3.4" fill="#000"/>
<text x="4386.2" y="1167.95" font-size="75.3">−1.0</text>
<text transform="translate(4593.1 679.7) rotate(-90)" text-anchor="middle" font-size="75.3" letter-spacing="-0.5">Velocity</text>
<text transform="translate(3276.7 680.7) rotate(-90)" text-anchor="middle" font-size="75.3">Distance</text>
<text x="3770.7" y="1212.1" text-anchor="middle" font-size="75.3">Time</text>
<text x="3574.8" y="164.4" font-size="134.5">Crunch</text>
</g>
<text class="cap" y="1460" font-size="122" xml:space="preserve"><tspan x="610.24" textLength="54.74" lengthAdjust="spacingAndGlyphs">F</tspan><tspan x="669.28" textLength="26.3" lengthAdjust="spacingAndGlyphs">i</tspan><tspan x="695.69" textLength="69.83" lengthAdjust="spacingAndGlyphs">g</tspan><tspan x="761.05" textLength="33.91" lengthAdjust="spacingAndGlyphs">.</tspan> <tspan x="826.8" textLength="63.39" lengthAdjust="spacingAndGlyphs">1</tspan><tspan x="894.2" textLength="33.91" lengthAdjust="spacingAndGlyphs">:</tspan> <tspan x="958.19" textLength="60.91" lengthAdjust="spacingAndGlyphs">S</tspan><tspan x="1021.35" textLength="67.42" lengthAdjust="spacingAndGlyphs">p</tspan><tspan x="1090.64" textLength="52.89" lengthAdjust="spacingAndGlyphs">a</tspan><tspan x="1154.89" textLength="36.62" lengthAdjust="spacingAndGlyphs">t</tspan><tspan x="1198.28" textLength="26.3" lengthAdjust="spacingAndGlyphs">i</tspan><tspan x="1229.1" textLength="52.13" lengthAdjust="spacingAndGlyphs">a</tspan><tspan x="1292.35" textLength="26.16" lengthAdjust="spacingAndGlyphs">l</tspan><tspan x="1319.93" textLength="43.15" lengthAdjust="spacingAndGlyphs">-</tspan><tspan x="1365.04" textLength="36.62" lengthAdjust="spacingAndGlyphs">t</tspan><tspan x="1405.08" textLength="64.31" lengthAdjust="spacingAndGlyphs">e</tspan><tspan x="1472.56" textLength="103.95" lengthAdjust="spacingAndGlyphs">m</tspan><tspan x="1579.4" textLength="67.04" lengthAdjust="spacingAndGlyphs">p</tspan><tspan x="1647.41" textLength="69.42" lengthAdjust="spacingAndGlyphs">o</tspan><tspan x="1719.85" textLength="43.89" lengthAdjust="spacingAndGlyphs">r</tspan><tspan x="1762.64" textLength="52.89" lengthAdjust="spacingAndGlyphs">a</tspan><tspan x="1827.08" textLength="26.3" lengthAdjust="spacingAndGlyphs">l</tspan> <tspan x="1887.9" textLength="66.59" lengthAdjust="spacingAndGlyphs">h</tspan><tspan x="1957.14" textLength="64.79" lengthAdjust="spacingAndGlyphs">e</tspan><tspan x="2023.63" textLength="53" lengthAdjust="spacingAndGlyphs">a</tspan><tspan x="2088.09" textLength="36.62" lengthAdjust="spacingAndGlyphs">t</tspan><tspan x="2130.54" textLength="104.19" lengthAdjust="spacingAndGlyphs">m</tspan><tspan x="2236.73" textLength="53" lengthAdjust="spacingAndGlyphs">a</tspan><tspan x="2301.25" textLength="67.42" lengthAdjust="spacingAndGlyphs">p</tspan><tspan x="2371.48" textLength="48.18" lengthAdjust="spacingAndGlyphs">s</tspan> <tspan x="2451.37" textLength="70.01" lengthAdjust="spacingAndGlyphs">o</tspan><tspan x="2524.11" textLength="36.62" lengthAdjust="spacingAndGlyphs">f</tspan> <tspan x="2594.89" textLength="36.62" lengthAdjust="spacingAndGlyphs">t</tspan><tspan x="2639.38" textLength="65.93" lengthAdjust="spacingAndGlyphs">h</tspan><tspan x="2709" textLength="43.89" lengthAdjust="spacingAndGlyphs">r</tspan><tspan x="2751.64" textLength="64.79" lengthAdjust="spacingAndGlyphs">e</tspan><tspan x="2819.07" textLength="64.43" lengthAdjust="spacingAndGlyphs">e</tspan> <tspan x="2915.86" textLength="67.77" lengthAdjust="spacingAndGlyphs">d</tspan><tspan x="2987.38" textLength="26.3" lengthAdjust="spacingAndGlyphs">i</tspan><tspan x="3017.76" textLength="36.62" lengthAdjust="spacingAndGlyphs">f</tspan><tspan x="3058.06" textLength="36.62" lengthAdjust="spacingAndGlyphs">f</tspan><tspan x="3092.6" textLength="65.27" lengthAdjust="spacingAndGlyphs">e</tspan><tspan x="3159.9" textLength="43.89" lengthAdjust="spacingAndGlyphs">r</tspan><tspan x="3203.84" textLength="64.79" lengthAdjust="spacingAndGlyphs">e</tspan><tspan x="3270.93" textLength="66.44" lengthAdjust="spacingAndGlyphs">n</tspan><tspan x="3340.99" textLength="36.62" lengthAdjust="spacingAndGlyphs">t</tspan> <tspan x="3414.74" textLength="52.89" lengthAdjust="spacingAndGlyphs">a</tspan><tspan x="3477.55" textLength="55.08" lengthAdjust="spacingAndGlyphs">c</tspan><tspan x="3535.84" textLength="36.62" lengthAdjust="spacingAndGlyphs">t</tspan><tspan x="3580.28" textLength="26.3" lengthAdjust="spacingAndGlyphs">i</tspan><tspan x="3609.8" textLength="57.09" lengthAdjust="spacingAndGlyphs">v</tspan><tspan x="3670.18" textLength="26.3" lengthAdjust="spacingAndGlyphs">i</tspan><tspan x="3701.94" textLength="36.62" lengthAdjust="spacingAndGlyphs">t</tspan><tspan x="3745.33" textLength="26.3" lengthAdjust="spacingAndGlyphs">i</tspan><tspan x="3773.95" textLength="64.67" lengthAdjust="spacingAndGlyphs">e</tspan><tspan x="3842.49" textLength="47.95" lengthAdjust="spacingAndGlyphs">s</tspan><tspan x="3891.9" textLength="33.91" lengthAdjust="spacingAndGlyphs">.</tspan></text>
</svg>
</body></html>
